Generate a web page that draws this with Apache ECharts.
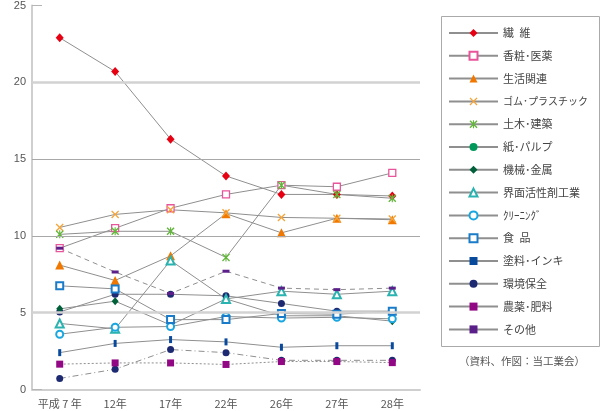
<!DOCTYPE html>
<html><head><meta charset="utf-8">
<script src="https://cdn.jsdelivr.net/npm/echarts@6/dist/echarts.min.js"></script>
<style>html,body{margin:0;padding:0;background:#fff}#c{width:610px;height:411px}</style>
</head><body><div id="c"></div>
<script>
const categories = ['平成 7 年','12年','17年','22年','26年','27年','28年'];
const yTicks = [0,5,10,15,20,25];
const seni     = [22.9, 20.7, 16.3, 13.9, 12.7, 12.7, 12.6];
const kosho    = [9.2, 10.5, 11.8, 12.7, 13.3, 13.2, 14.1];
const seikatsu = [8.1, 7.1, 8.7, 11.45, 10.2, 11.15, 11.05];
const gomu     = [10.55, 11.4, 11.7, 11.5, 11.2, 11.15, 11.1];
const doboku   = [10.1, 10.3, 10.3, 8.6, 13.3, 12.7, 12.45];
const kami     = [5.05, 6.2, 6.2, 6.1, 5.6, 5.1, 5.1];
const kikai    = [5.25, 5.75, 4.2, 5.9, 4.8, 4.8, 4.45];
const kaimen   = [4.3, 3.95, 8.4, 5.9, 6.4, 6.2, 6.4];
const cleaning = [3.6, 4.05, 4.1, 4.75, 4.65, 4.7, 4.6];
const shokuhin = [6.75, 6.55, 4.55, 4.55, 4.95, 4.9, 5.1];
const toryo    = [2.4, 3.0, 3.25, 3.1, 2.75, 2.85, 2.85];
const kankyo   = [0.72, 1.32, 2.6, 2.4, 1.9, 1.9, 1.9];
const noyaku   = [1.65, 1.73, 1.73, 1.63, 1.82, 1.82, 1.75];
const sonota   = [9.2, 7.65, 6.25, 7.7, 6.6, 6.5, 6.6];
const sourceText = '（資料、作図：当工業会）';

const X_PATH = 'path://M0,1.2L1.2,0L5,3.8L8.8,0L10,1.2L6.2,5L10,8.8L8.8,10L5,6.2L1.2,10L0,8.8L3.8,5Z';
const AST_PATH = 'path://M0,1.2L1.2,0L5,3.8L8.8,0L10,1.2L6.2,5L10,8.8L8.8,10L5,6.2L1.2,10L0,8.8L3.8,5Z M4.3,0L5.7,0L5.7,10L4.3,10Z';
const LINE = '#8f8f8f';

function s(name, data, symbol, size, item, line) {
  return {
    name, type: 'line', data, symbol, symbolSize: size,
    itemStyle: item,
    lineStyle: Object.assign({color: LINE, width: 1}, line || {}),
    emphasis: {disabled: true}, animation: false, z: 3
  };
}

const series = [
  s('繊\u2002維', seni, 'diamond', [8,9], {color:'#e60012'}),
  s('香粧･医薬', kosho, 'rect', 7, {color:'#fff', borderColor:'#e8559a', borderWidth:1.3}),
  s('生活関連', seikatsu, 'triangle', 9, {color:'#f07800'}),
  s('ゴム･プラスチック', gomu, X_PATH, 8, {color:'#f5a53a'}),
  s('土木･建築', doboku, AST_PATH, 8, {color:'#62b63a'}),
  s('紙･パルプ', kami.map(v => ({value: v, itemStyle: {color: '#1d2a72'}})), 'circle', 7, {color:'#00995a'}),
  s('機械･金属', kikai, 'diamond', [7,8], {color:'#00603a'}),
  s('界面活性剤工業', kaimen, 'emptyTriangle', 8, {color:'#2ab3b0', borderWidth:1.3}),
  s('ｸﾘｰﾆﾝｸﾞ', cleaning, 'emptyCircle', 7, {color:'#1aa7e0', borderWidth:1.3}),
  s('食\u2002品', shokuhin, 'emptyRect', 7, {color:'#1a7cc9', borderWidth:1.3}),
  s('塗料･インキ', toryo, 'rect', [3,7], {color:'#0a4a9c'}),
  s('環境保全', kankyo, 'circle', 7, {color:'#1d2a72'}, {type:[6,3,1,3]}),
  s('農薬･肥料', noyaku, 'rect', 7, {color:'#920783'}, {type:[2,2]}),
  s('その他', sonota, 'rect', [7,3], {color:'#5b1f8a'}, {type:[5,4]})
];

// reference lines (grid lines with two styles)
series.unshift({
  type: 'line', data: [], silent: true, animation: false, z: 1,
  markLine: {
    silent: true, symbol: 'none', animation: false, label: {show: false},
    data: [
      {yAxis: yTicks[4], lineStyle: {color: '#d2d2d2', width: 2.5, type: 'solid'}},
      {yAxis: yTicks[1], lineStyle: {color: '#d2d2d2', width: 2.5, type: 'solid'}},
      {yAxis: yTicks[3], lineStyle: {color: '#a8a8a8', width: 1, type: 'solid'}},
      {yAxis: yTicks[2], lineStyle: {color: '#a8a8a8', width: 1, type: 'solid'}}
    ]
  }
});

const chart = echarts.init(document.getElementById('c'), null, {renderer: 'canvas'});
chart.setOption({
  animation: false,
  grid: {left: 32, right: 190, top: 2, bottom: 21.5, containLabel: false},
  xAxis: {
    type: 'category', data: categories, boundaryGap: true,
    axisLine: {lineStyle: {color: '#cfcfcf', width: 2}},
    axisTick: {inside: true, length: 10, lineStyle: {color: '#b5b5b5'}},
    axisLabel: {interval: 0, color: '#555', fontSize: 11, margin: 9, fontFamily: 'Noto Sans CJK JP'}
  },
  yAxis: {
    type: 'value', min: 0, max: 25, interval: 5,
    axisLine: {show: true, lineStyle: {color: '#cfcfcf', width: 2}},
    axisTick: {show: true, inside: true, length: 10, lineStyle: {color: '#b5b5b5'}},
    splitLine: {show: false},
    axisLabel: {color: '#555', fontSize: 11, margin: 6, fontFamily: 'Liberation Sans'}
  },
  legend: {
    orient: 'vertical', left: 448, top: 26,
    itemWidth: 49, itemHeight: 10, itemGap: 8.8, itemTextGap: 7,
    padding: 0,
    lineStyle: {type: 'solid'},
    textStyle: {color: '#444', fontSize: 11, lineHeight: 14, fontFamily: 'Noto Sans CJK JP',
      rich: {n: {fontSize: 10, lineHeight: 14, color: '#444', fontFamily: 'Noto Sans CJK JP'}}},
    formatter: name => name === 'ゴム･プラスチック' ? '{n|' + name + '}' : name,
    data: series.filter(x => x.name).map(x => x.name),
    selectedMode: false
  },
  graphic: [
    {type: 'rect', left: 439, top: 14, silent: true,
     shape: {x: 0, y: 0, width: 158, height: 330},
     style: {fill: 'none', stroke: '#aaa', lineWidth: 1}},
    {type: 'text', left: 459, top: 356,
     style: {text: sourceText, fill: '#555', font: '10.5px "Noto Sans CJK JP"'}}
  ],
  series
});
</script></body></html>
